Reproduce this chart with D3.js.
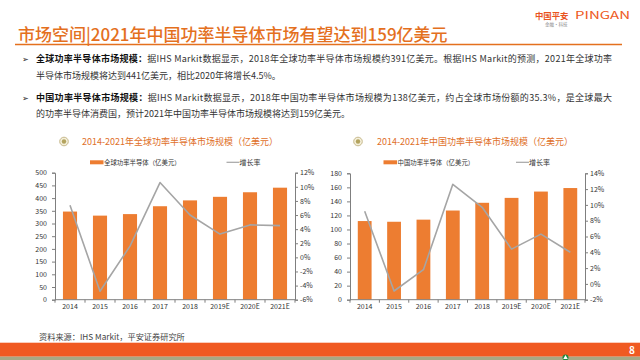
<!DOCTYPE html>
<html><head><meta charset="utf-8">
<script src="https://cdn.jsdelivr.net/npm/d3@7"></script>
<style>
html,body{margin:0;padding:0;background:#fff;}
svg{display:block;}
text{font-family:"Noto Sans CJK SC","Noto Sans",sans-serif;}
</style></head>
<body>
<svg id="c" width="640" height="360"></svg>
<script>
// ---- data ----
const years = ["2014","2015","2016","2017","2018","2019E","2020E","2021E"];
const globalMarket = [347, 331, 337, 368, 391, 405, 423, 441];
const globalGrowth = [7.4, -4.8, 1.6, 10.6, 6.0, 3.3, 4.6, 4.5];
const chinaMarket = [112, 111, 114, 127, 138, 145, 154, 159];
const chinaGrowth = [9.2, -0.9, 1.8, 12.6, 9.7, 4.4, 6.3, 4.0];
const globalLeftTicks = [0,50,100,150,200,250,300,350,400,450,500];
const globalRightTicks = [-6,-4,-2,0,2,4,6,8,10,12];
const chinaLeftTicks = [0,20,40,60,80,100,120,140,160,180];
const chinaRightTicks = [-2,0,2,4,6,8,10,12,14];
const pageTitle = "市场空间|2021年中国功率半导体市场有望达到159亿美元";
const bullets = [
  {bold:"全球功率半导体市场规模：", rest:"据IHS Markit数据显示，2018年全球功率半导体市场规模约391亿美元。根据IHS Markit的预测，2021年全球功率", cont:"半导体市场规模将达到441亿美元，相比2020年将增长4.5%。"},
  {bold:"中国功率半导体市场规模：", rest:"据IHS Markit数据显示，2018年中国功率半导体市场规模为138亿美元，约占全球市场份额的35.3%，是全球最大", cont:"的功率半导体消费国，预计2021年中国功率半导体市场规模将达到159亿美元。"}
];
const charts = [
  {title:"2014-2021年全球功率半导体市场规模（亿美元）", barName:"全球功率半导体（亿美元）", lineName:"增长率",
   bars:globalMarket, line:globalGrowth, lt:globalLeftTicks, rt:globalRightTicks,
   x0:55, x1:295, yTop:172.7, iconX:64, titleX:82, legRect:90, legLine:226.5},
  {title:"2014-2021年中国功率半导体市场规模（亿美元）", barName:"中国功率半导体（亿美元）", lineName:"增长率",
   bars:chinaMarket, line:chinaGrowth, lt:chinaLeftTicks, rt:chinaRightTicks,
   x0:350, x1:585, yTop:173.3, iconX:358, titleX:377, legRect:383.5, legLine:516}
];
const source = "资料来源：IHS Markit，平安证券研究所";

const svg = d3.select("#c");
const ORANGE = "#E4701E";

// header
svg.append("text").attr("x",18).attr("y",41).attr("font-size",17).attr("fill",ORANGE)
  .attr("font-weight",500).text(pageTitle);
svg.append("line").attr("x1",15).attr("x2",622).attr("y1",44.5).attr("y2",44.5)
  .attr("stroke",ORANGE).attr("stroke-width",1.5);
svg.append("text").attr("x",535).attr("y",18.5).attr("font-size",8.4).attr("font-weight",700)
  .attr("fill","#E9541F").text("中国平安");
svg.append("text").attr("x",575).attr("y",18.5).attr("font-size",10.5).attr("font-weight",400)
  .attr("font-family","Liberation Sans, Arial, sans-serif").attr("fill","#EE5A24")
  .attr("textLength",55).attr("lengthAdjust","spacingAndGlyphs").text("PINGAN");
svg.append("text").attr("x",545).attr("y",26).attr("font-size",4.5).attr("fill","#888").text("金融·科技");

// bullets
const lineYs = [[61.5,79],[101,116.5]];
bullets.forEach((b,i)=>{
  svg.append("text").attr("x",22).attr("y",lineYs[i][0]).attr("font-size",8).attr("fill","#222").text("➢");
  const t = svg.append("text").attr("x",36).attr("y",lineYs[i][0]).attr("font-size",9).attr("fill","#333")
    .attr("textLength",576).attr("lengthAdjust","spacing");
  t.append("tspan").attr("font-weight",700).attr("fill","#111").text(b.bold);
  t.append("tspan").text(b.rest);
  svg.append("text").attr("x",36).attr("y",lineYs[i][1]).attr("font-size",9).attr("fill","#333").text(b.cont);
});

// charts
charts.forEach(c=>{
  const x = d3.scaleBand().domain(years).range([c.x0,c.x1]).paddingInner(0.53).paddingOuter(0.265);
  const yL = d3.scaleLinear().domain([c.lt[0], c.lt[c.lt.length-1]]).range([299.7, c.yTop]);
  const yR = d3.scaleLinear().domain([c.rt[0], c.rt[c.rt.length-1]]).range([299.7, c.yTop]);

  // title
  svg.append("circle").attr("cx",c.iconX).attr("cy",141.5).attr("r",4.3).attr("fill","#F4EFD9")
    .attr("stroke","#C7B98C").attr("stroke-width",1);
  svg.append("circle").attr("cx",c.iconX).attr("cy",141.5).attr("r",2.2).attr("fill","#B3A35E");
  svg.append("text").attr("x",c.titleX).attr("y",145).attr("font-size",9.6).attr("fill","#E0702A")
    .attr("textLength",196).attr("lengthAdjust","spacingAndGlyphs").text(c.title);

  // legend
  svg.append("rect").attr("x",c.legRect).attr("y",160.3).attr("width",13.5).attr("height",4).attr("fill","#ED7D31");
  svg.append("text").attr("x",c.legRect+14).attr("y",164.6).attr("font-size",6.4).attr("fill","#333").text(c.barName);
  svg.append("line").attr("x1",c.legLine).attr("x2",c.legLine+13).attr("y1",162.3).attr("y2",162.3)
    .attr("stroke","#A5A5A5").attr("stroke-width",1.2);
  svg.append("text").attr("x",c.legLine+13).attr("y",164.8).attr("font-size",7).attr("fill","#333").text(c.lineName);

  // bars
  svg.append("g").selectAll("rect").data(c.bars).join("rect")
    .attr("x",(d,i)=>x(years[i])).attr("width",x.bandwidth())
    .attr("y",d=>yL(d)).attr("height",d=>yL(0)-yL(d)).attr("fill","#ED7D31");

  // line
  const lg = d3.line().x((d,i)=>x(years[i])+x.bandwidth()/2).y(d=>yR(d));
  svg.append("path").datum(c.line).attr("d",lg).attr("fill","none")
    .attr("stroke","#A5A5A5").attr("stroke-width",1.6).attr("stroke-linejoin","round");

  // axes
  const fontAx = "Liberation Sans, Arial, sans-serif";
  const gl = svg.append("g").attr("transform",`translate(${c.x0},0)`)
    .call(d3.axisLeft(yL).tickValues(c.lt).tickSize(3).tickPadding(5).tickFormat(d3.format("d")));
  const gr = svg.append("g").attr("transform",`translate(${c.x1},0)`)
    .call(d3.axisRight(yR).tickValues(c.rt).tickSize(3).tickPadding(2).tickFormat(d=>d+"%"));
  const gb = svg.append("g").attr("transform",`translate(0,299.7)`)
    .call(d3.axisBottom(x).tickSize(0).tickPadding(4.5));
  gb.select(".domain").remove();
  svg.append("line").attr("x1",c.x0).attr("x2",c.x1).attr("y1",299.7).attr("y2",299.7)
    .attr("stroke","#7F7F7F").attr("stroke-width",1);
  // category boundary ticks
  svg.append("g").selectAll("line").data(d3.range(years.length+1)).join("line")
    .attr("x1",i=>c.x0+i*x.step()).attr("x2",i=>c.x0+i*x.step())
    .attr("y1",299.7).attr("y2",302.7).attr("stroke","#7F7F7F");
  [gl,gr,gb].forEach(g=>{
    g.selectAll("text").attr("font-size",7).attr("font-family",fontAx).attr("fill","#333");
    g.selectAll("line").attr("stroke","#7F7F7F");
    g.selectAll(".domain").attr("stroke","#7F7F7F");
  });
});

// source
svg.append("text").attr("x",39).attr("y",339.5).attr("font-size",8.2).attr("fill","#444").text(source);

// footer
svg.append("rect").attr("x",0).attr("y",342.7).attr("width",640).attr("height",14).attr("fill","#F05A22");
svg.append("rect").attr("x",0).attr("y",356.7).attr("width",640).attr("height",3.3).attr("fill","#A7A985");
svg.append("circle").attr("cx",565.5).attr("cy",357.5).attr("r",3).attr("fill","#1E8A3E");
svg.append("path").attr("d",d3.symbol(d3.symbolTriangle,9)()).attr("transform","translate(565.5,357.6)").attr("fill","#fff");
svg.append("text").attr("x",632).attr("y",353.5).attr("font-size",10).attr("font-weight",700)
  .attr("font-family","Liberation Sans, Arial, sans-serif").attr("fill","#fff").attr("text-anchor","middle").text("8");
</script>
</body></html>
